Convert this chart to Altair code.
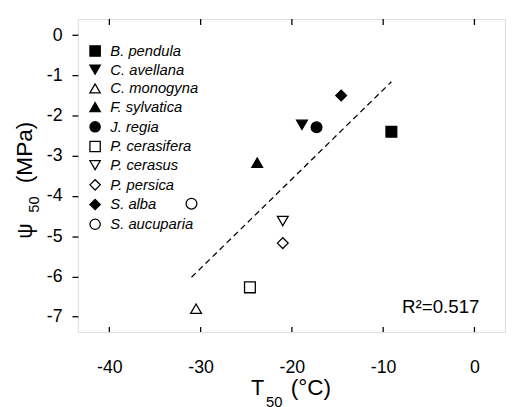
import altair as alt
import pandas as pd

# ---- data ----
species = ["B. pendula", "C. avellana", "C. monogyna", "F. sylvatica", "J. regia",
           "P. cerasifera", "P. cerasus", "P. persica", "S. alba", "S. aucuparia"]
t50 = [-9.1, -18.9, -30.5, -23.8, -17.3, -24.6, -21.0, -21.0, -14.6, -31.0]
psi50 = [-2.40, -2.23, -6.80, -3.17, -2.29, -6.27, -4.62, -5.17, -1.50, -4.19]
shapes = ["square", "triangle-down", "triangle-up", "triangle-up", "circle",
          "square", "triangle-down", "diamond", "diamond", "circle"]
fills = ["black", "black", "white", "black", "black",
         "white", "white", "white", "black", "white"]
strokes = ["black"] * len(species)

fit_x = [-31.0, -9.1]
fit_y = [-6.02, -1.16]

x_ticks = [-40, -30, -20, -10, 0]
y_ticks = [0, -1, -2, -3, -4, -5, -6, -7]
r2_text = "R²=0.517"

x_domain = [-43.45, 3.35]
y_domain = [-7.38, 0.40]

W, H = 434, 318
FONT = "Liberation Sans"

pts = pd.DataFrame({"Species": species, "T50": t50, "psi50": psi50})
fit = pd.DataFrame({"T50": fit_x, "psi50": fit_y})
xt = pd.DataFrame({"T50": x_ticks})

xscale = alt.Scale(domain=x_domain, nice=False, zero=False)
yscale = alt.Scale(domain=y_domain, nice=False, zero=False)


def legend():
    return alt.Legend(title=None, orient="none", legendX=10, legendY=25,
                      labelFont=FONT, labelFontSize=15, labelFontStyle="italic",
                      labelColor="black", symbolSize=110, rowPadding=3,
                      labelOffset=8, symbolStrokeWidth=1.3)


points = alt.Chart(pts).mark_point(
    filled=True, stroke="black", strokeWidth=1.3, size=120, opacity=1
).encode(
    x=alt.X("T50:Q", scale=xscale, title=None,
            axis=alt.Axis(values=x_ticks, ticks=False, tickSize=0, domain=False, grid=False,
                          labelExpr="toString(datum.value)",
                          labelFontSize=18, labelFont=FONT, labelColor="black",
                          labelPadding=27)),
    y=alt.Y("psi50:Q", scale=yscale, title=None,
            axis=alt.Axis(values=y_ticks, ticks=True, tickSize=6, tickColor="black",
                          tickWidth=1.3, domain=False, grid=False,
                          labelExpr="toString(datum.value)",
                          labelFontSize=18, labelFont=FONT, labelColor="black",
                          labelPadding=10)),
    shape=alt.Shape("Species:N", scale=alt.Scale(domain=species, range=shapes), legend=legend()),
    fill=alt.Fill("Species:N", scale=alt.Scale(domain=species, range=fills), legend=legend()),
    stroke=alt.Stroke("Species:N", scale=alt.Scale(domain=species, range=strokes), legend=legend()),
)

line = alt.Chart(fit).mark_line(color="black", strokeWidth=1.3, strokeDash=[6, 4]).encode(
    x=alt.X("T50:Q", scale=xscale),
    y=alt.Y("psi50:Q", scale=yscale),
)

bottom_ticks = alt.Chart(xt).mark_rule(color="black", strokeWidth=1.3).encode(
    x=alt.X("T50:Q", scale=xscale),
    y=alt.value(H),
    y2=alt.value(H - 5),
)
top_ticks = alt.Chart(xt).mark_rule(color="black", strokeWidth=1.3).encode(
    x=alt.X("T50:Q", scale=xscale),
    y=alt.value(0),
    y2=alt.value(6),
)


def label(text, x, y, size, angle=0, align="center", style="normal"):
    return alt.Chart(pd.DataFrame({"t": [text]})).mark_text(
        align=align, baseline="alphabetic", font=FONT, fontSize=size,
        color="black", angle=angle, fontStyle=style
    ).encode(x=alt.value(x), y=alt.value(y), text="t:N")


r2 = label(r2_text, 408, 299, 19, align="right")

# x-axis title: T with subscript 50, then (°C)
xt_T = label("T", 182.7, 381.7, 22)
xt_sub = label("50", 199.5, 394.7, 15)
xt_unit = label("(°C)", 236.8, 381.7, 23)

# y-axis title (rotated): psi with subscript 50, then (MPa)
yt_psi = label("ψ", -46.3, 215.5, 22, angle=270)
yt_sub = label("50", -39.0, 188.5, 15, angle=270)
yt_unit = label("(MPa)", -46.3, 135.5, 23, angle=270)

chart = alt.layer(
    line, points, bottom_ticks, top_ticks, r2,
    xt_T, xt_sub, xt_unit, yt_psi, yt_sub, yt_unit
).properties(
    width=W, height=H,
    autosize=alt.AutoSizeParams(type="none"),
    padding={"left": 71, "top": 8, "right": 1, "bottom": 73},
).configure_view(
    stroke="black", strokeWidth=1.8
).configure(background="white")

chart.save("out.html", embed_options={"renderer": "svg", "actions": False})
